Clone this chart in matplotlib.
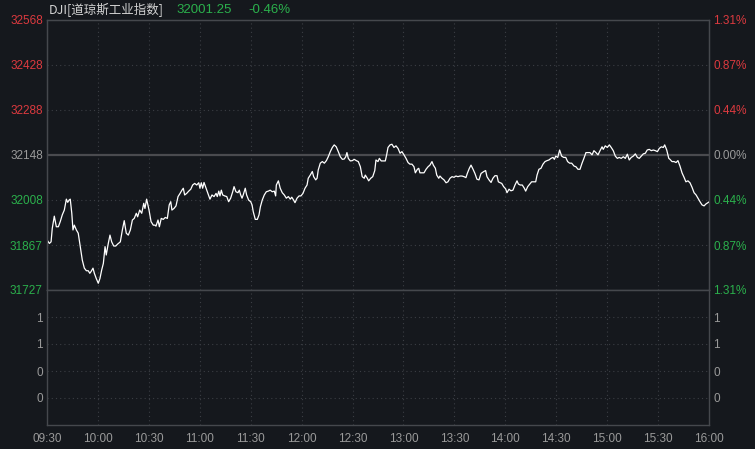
import numpy as np
import matplotlib.pyplot as plt

plt.rcParams['font.family'] = ['Liberation Sans', 'Noto Sans CJK SC', 'DejaVu Sans']

# minutes after 09:30 and DJI price
minutes = [0, 1.4, 2.4, 3.1, 4.3, 5.5, 6.7, 7.8, 9.0, 10.2, 11.4, 12.2, 13.0, 13.7, 14.6, 15.3,
           16.1, 17.3, 18.4, 19.6, 20.8, 22.0, 23.2, 24.3, 25.2, 25.9, 27.1, 27.9, 29.0, 30.2,
           31.2, 32.2, 33.2, 34.2, 34.9, 36.1, 37.1, 38.1, 39.3, 40.5, 41.6, 43.2, 44.4, 45.5,
           46.7, 47.9, 49.1, 50.3, 51.4, 52.6, 53.4, 54.6, 55.8, 57.0, 57.7, 58.7, 60.1, 61.3,
           62.6, 63.6, 64.2, 65.4, 66.2, 67.3, 68.5, 69.7, 70.9, 72.0, 72.9, 73.6, 74.8, 76.0,
           77.2, 78.4, 79.5, 80.3, 81.1, 82.3, 83.5, 84.7, 85.8, 87.0, 88.2, 89.4, 90.1, 90.9,
           91.7, 92.5, 93.7, 94.8, 96.0, 97.2, 98.4, 99.6, 100.3, 101.2, 101.9, 102.7, 103.5,
           104.7, 105.9, 107.0, 108.2, 109.4, 110.2, 111.3, 112.5, 113.3, 114.1, 114.9, 115.6,
           116.8, 117.6, 118.8, 120.0, 120.8, 121.5, 122.7, 123.9, 124.9, 125.7, 126.8, 128.0,
           129.2, 130.4, 131.5, 132.7, 133.9, 134.7, 135.1, 136.3, 137.4, 138.6, 139.8, 141.0,
           142.2, 143.3, 144.2, 145.3, 146.1, 147.3, 148.5, 149.6, 150.8, 152.0, 153.2, 153.9,
           155.1, 156.3, 157.1, 158.3, 159.1, 159.8, 161.0, 162.2, 163.4, 164.6, 165.7, 166.9,
           168.1, 169.2, 170.4, 171.6, 172.8, 174.0, 175.1, 176.0, 176.7, 177.5, 178.7, 179.9,
           181.0, 182.2, 183.4, 184.6, 185.7, 186.9, 187.5, 188.7, 189.5, 190.7, 191.9, 193.1,
           193.8, 195.0, 195.8, 196.9, 198.1, 199.3, 200.1, 200.9, 202.1, 203.2, 204.4, 205.6,
           206.8, 208.0, 209.1, 210.3, 211.5, 212.7, 213.8, 215.0, 216.2, 217.0, 218.2, 219.0,
           219.7, 220.9, 222.1, 223.3, 224.5, 225.6, 226.8, 227.6, 228.8, 229.6, 230.8, 231.5,
           232.7, 233.9, 235.1, 236.2, 237.4, 238.6, 239.8, 240.9, 242.1, 243.3, 244.5, 245.7,
           246.8, 247.6, 248.8, 249.8, 251.0, 252.1, 253.3, 254.5, 255.7, 257.3, 258.4, 259.2,
           260.4, 261.6, 262.7, 263.9, 265.1, 265.9, 267.0, 267.9, 269.0, 270.2, 271.0, 272.2,
           273.3, 274.5, 275.7, 276.9, 277.7, 278.8, 280.0, 281.2, 282.0, 283.2, 284.4, 285.5,
           286.7, 287.9, 288.7, 289.8, 291.0, 292.2, 293.4, 294.6, 295.7, 296.9, 298.1, 298.9,
           299.7, 300.9, 302.0, 303.2, 304.4, 305.6, 306.7, 307.9, 309.1, 310.5, 311.6, 312.8,
           314.0, 315.2, 316.3, 317.5, 318.7, 319.9, 321.1, 322.2, 323.4, 324.6, 325.8, 327.0,
           327.7, 328.9, 330.1, 331.3, 332.4, 333.6, 334.8, 336.0, 337.1, 338.3, 339.5, 340.7,
           341.9, 343.0, 344.2, 345.4, 346.6, 347.8, 348.9, 350.1, 351.3, 352.5, 353.6, 354.8,
           356.0, 357.2, 358.4, 359.6, 360.7, 361.9, 363.1, 363.9, 365.1, 366.3, 367.0, 368.2,
           369.4, 370.6, 371.7, 372.9, 374.1, 375.3, 376.4, 377.6, 378.8, 380.0, 381.2, 382.4,
           383.5, 384.7, 385.9, 387.1, 388.2, 389.4, 390.0]
price = [31883, 31872, 31877, 31919, 31957, 31924, 31924, 31940, 31961, 31976, 32010, 32000, 32007,
         32010, 31966, 31914, 31929, 31914, 31904, 31862, 31820, 31795, 31787, 31787, 31779, 31784,
         31795, 31779, 31763, 31748, 31763, 31789, 31810, 31862, 31836, 31872, 31898, 31877, 31864,
         31864, 31870, 31877, 31914, 31943, 31904, 31898, 31914, 31945, 31950, 31966, 31955, 31976,
         31966, 31997, 31981, 32010, 31976, 31940, 31929, 31929, 31926, 31945, 31924, 31950, 31947,
         31953, 31950, 31992, 32002, 31976, 31981, 31989, 32018, 32028, 32038, 32044, 32023, 32028,
         32035, 32041, 32054, 32059, 32054, 32061, 32044, 32061, 32044, 32062, 32044, 32028, 32010,
         32023, 32018, 32028, 32018, 32035, 32020, 32038, 32023, 32020, 32018, 32002, 32013, 32033,
         32049, 32033, 32030, 32038, 32023, 32013, 32023, 32044, 32023, 32007, 32002, 31992, 31971,
         31947, 31947, 31961, 31986, 32007, 32023, 32033, 32035, 32038, 32033, 32035, 32020, 32054,
         32067, 32044, 32030, 32023, 32013, 32018, 32010, 32016, 32007, 31999, 32013, 32020, 32020,
         32028, 32044, 32054, 32075, 32085, 32096, 32080, 32070, 32075, 32101, 32122, 32127, 32122,
         32130, 32142, 32158, 32171, 32179, 32173, 32158, 32142, 32134, 32135, 32142, 32155, 32137,
         32129, 32130, 32134, 32130, 32127, 32111, 32080, 32075, 32085, 32075, 32067, 32075, 32080,
         32099, 32132, 32127, 32137, 32129, 32129, 32129, 32148, 32171, 32179, 32181, 32171, 32176,
         32168, 32153, 32158, 32148, 32137, 32124, 32119, 32119, 32111, 32092, 32103, 32106, 32092,
         32092, 32092, 32103, 32111, 32116, 32127, 32116, 32106, 32085, 32075, 32082, 32075, 32070,
         32061, 32064, 32075, 32080, 32078, 32082, 32080, 32082, 32082, 32080, 32077, 32090, 32106,
         32116, 32103, 32090, 32072, 32070, 32090, 32096, 32099, 32080, 32070, 32062, 32075, 32083,
         32083, 32064, 32061, 32059, 32049, 32042, 32030, 32041, 32036, 32038, 32054, 32067, 32057,
         32054, 32054, 32044, 32035, 32049, 32057, 32064, 32064, 32064, 32085, 32103, 32106, 32119,
         32127, 32130, 32132, 32137, 32140, 32134, 32144, 32140, 32163, 32144, 32140, 32140, 32127,
         32122, 32122, 32113, 32111, 32103, 32103, 32122, 32137, 32155, 32155, 32155, 32148, 32161,
         32155, 32148, 32161, 32173, 32165, 32176, 32171, 32179, 32171, 32161, 32144, 32137, 32140,
         32137, 32142, 32137, 32150, 32132, 32140, 32144, 32151, 32140, 32137, 32144, 32151, 32153,
         32163, 32165, 32161, 32163, 32161, 32158, 32168, 32173, 32171, 32179, 32163, 32137, 32134,
         32127, 32127, 32124, 32130, 32113, 32092, 32078, 32064, 32067, 32061, 32047, 32030, 32023,
         32013, 32002, 31992, 31989, 31995, 31999, 32001.25]

prev_close = 32148
price_ticks = [31727, 31867, 32008, 32148, 32288, 32428, 32568]
price_labels = ['31727', '31867', '32008', '32148', '32288', '32428', '32568']
pct_labels = ['1.31%', '0.87%', '0.44%', '0.00%', '0.44%', '0.87%', '1.31%']
vol_ticks = [1, 2, 3, 4]
vol_labels = ['0', '0', '1', '1']
time_ticks = [0, 30, 60, 90, 120, 150, 180, 210, 240, 270, 300, 330, 360, 390]
time_labels = ['09:30', '10:00', '10:30', '11:00', '11:30', '12:00', '12:30', '13:00',
               '13:30', '14:00', '14:30', '15:00', '15:30', '16:00']

bg = '#15181d'
red = '#dc3a3f'
green = '#2bb04c'
gray = '#9a9a9a'
frame = '#45484d'
gridc = '#3b3e44'

def lab_color(p):
    if p > prev_close:
        return red
    if p < prev_close:
        return green
    return gray

fig = plt.figure(figsize=(7.55, 4.49), dpi=100, facecolor=bg)
ax1 = plt.axes([47/755., 159/449., 662/755., 270/449.], facecolor=bg)
ax2 = plt.axes([47/755., 24/449., 662/755., 135/449.], facecolor=bg)

ax1.plot(minutes, price, color='white', lw=0.9, zorder=5)
ax1.axhline(prev_close, color='#4a4b4f', lw=1.6, zorder=2)

for ax in [ax1, ax2]:
    ax.set_xlim(0, 390)
    ax.set_xticks(time_ticks)
    ax.grid(True, color=gridc, lw=0.8, linestyle=(0, (1, 2.8)))
    for s in ax.spines.values():
        s.set_color(frame)
        s.set_linewidth(1.0)
    ax.tick_params(length=0, labelsize=8.5, colors=gray)

ax1.set_ylim(price_ticks[0], price_ticks[-1])
ax1.set_yticks(price_ticks)
ax1.set_yticklabels(price_labels)
ax1.set_xticklabels([])
ax1.tick_params(axis='y', pad=3)
for t, p in zip(ax1.get_yticklabels(), price_ticks):
    t.set_color(lab_color(p))
# grid only on the inner levels
ax1.yaxis.get_gridlines()[0].set_visible(False)
ax1.yaxis.get_gridlines()[3].set_visible(False)
ax1.yaxis.get_gridlines()[-1].set_visible(False)

ax1r = ax1.twinx()
ax1r.set_ylim(price_ticks[0], price_ticks[-1])
ax1r.set_yticks(price_ticks)
ax1r.set_yticklabels(pct_labels)
ax1r.tick_params(length=0, labelsize=8.5, pad=3)
for t, p in zip(ax1r.get_yticklabels(), price_ticks):
    t.set_color(lab_color(p))
for s in ax1r.spines.values():
    s.set_color(frame)

ax2.set_ylim(0, 5)
ax2.set_yticks(vol_ticks)
ax2.set_yticklabels(vol_labels)
ax2.set_xticklabels(time_labels)
ax2.tick_params(axis='x', pad=6)
ax2.tick_params(axis='y', pad=3, right=True, labelright=True)
ax2.xaxis.get_gridlines()[0].set_visible(False)
ax2.xaxis.get_gridlines()[-1].set_visible(False)
ax1.xaxis.get_gridlines()[0].set_visible(False)
ax1.xaxis.get_gridlines()[-1].set_visible(False)

fig.text(49/755., 1 - 10/449., 'DJI[道琼斯工业指数]', color='#d2d2d2', fontsize=9,
         family=['Noto Sans CJK SC', 'DejaVu Sans'], va='center', ha='left')
fig.text(176/755., 1 - 10/449., '32001.25', color=green, fontsize=9.5, va='center', ha='left')
fig.text(248/755., 1 - 10/449., '-0.46%', color=green, fontsize=9.5, va='center', ha='left')

plt.savefig('out.png', dpi=100, facecolor=bg)
